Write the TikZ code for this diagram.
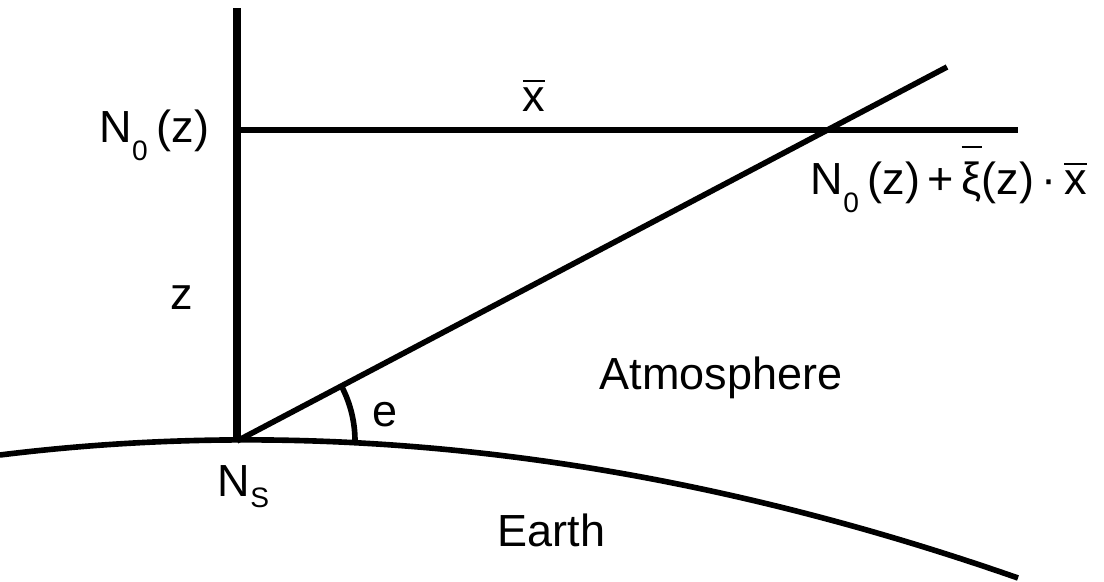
\documentclass[tikz,border=0pt]{standalone}
\usepackage{fontspec}
\setmainfont{Liberation Sans}
\newcommand{\lowsub}[2]{\raisebox{-#1}{\fontsize{20}{20}\selectfont #2}}
\newcommand{\topbar}[2]{\leavevmode\setbox0\hbox{#2}\rlap{\raisebox{#1}{\rule{\wd0}{.05em}}}\box0}
\begin{document}
\begin{tikzpicture}[x=0.025cm,y=0.025cm,line width=4pt,
  every node/.style={inner sep=0pt},font=\fontsize{32}{38}\selectfont]
\useasboundingbox (0,0) rectangle (1104,582);
\coordinate (NS) at (237,141);
\coordinate (top) at (237,574);
\coordinate (N0) at (237,452);
\coordinate (hend) at (1018,452);
\coordinate (tip) at (947,515);
% earth surface
\draw (0,127) .. controls (340,169) and (680,122) .. (1018,4);
\draw[line width=5.8pt] (NS) -- (top);
\draw (N0) -- (hend);
\draw (NS) -- (tip);
\draw (NS) ++(-1:118) arc (-1:27.8:118);
\node[anchor=base east] (n0lab) at (212,439) {N\lowsub{.38em}{0}\hspace{.2em}(z)};
\node[anchor=base] (xlab) at (534,470) {\topbar{.66em}{x}};
\node[anchor=base west] (sumlab) at (808,387) {N\lowsub{.38em}{0}\hspace{.2em}(z)\,+\,\topbar{1.04em}{ξ}(z)\,·\,\topbar{.66em}{x}};
\node[anchor=base] (zlab) at (182,272) {z};
\node[anchor=base] (elab) at (385,155) {e};
\node[anchor=base west] (atm) at (597,192) {Atmosphere};
\node[anchor=base west] (nslab) at (215,85) {N\lowsub{.23em}{S}};
\node[anchor=base west] (earth) at (495,35) {Earth};
\end{tikzpicture}
\end{document}
